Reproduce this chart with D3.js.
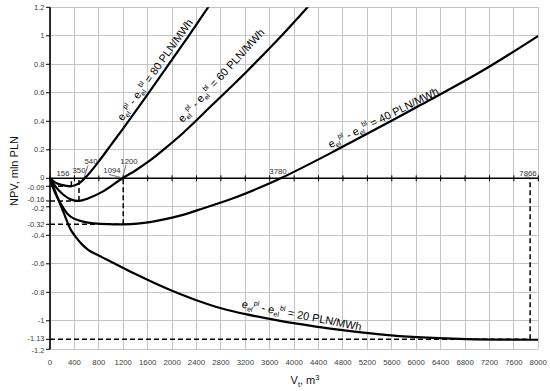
<!DOCTYPE html>
<html><head><meta charset="utf-8">
<script src="https://cdn.jsdelivr.net/npm/d3@7"></script>
<style>body{margin:0;background:#fff}svg{display:block}</style>
</head><body><svg id="c" width="550" height="391"></svg>
<script>
// ---------- data ----------
const xTickVals = d3.range(0, 8001, 400);
const yGridVals = [-1.2,-1,-0.8,-0.6,-0.4,-0.2,0,0.2,0.4,0.6,0.8,1,1.2];
const yTickVals = [1.2,1,0.8,0.6,0.4,0.2,0,-0.2,-0.4,-0.6,-0.8,-1,-1.2];
const yTickLabels = ["1.2","1","0.8","0.6","0.4","0.2","0","-0.2","-0.4","-0.6","-0.8","-1","-1.2"];

const seriesNames = ["80","60","40","20"];
const curve80 = [[0,0],[60,-0.021],[120,-0.036],[230,-0.05],[350,-0.056],[475,-0.036],[612,0.02],[820,0.13],[1000,0.235],[1200,0.35],[1585,0.58],[1913,0.78],[2200,0.955],[2448,1.11],[2607,1.21],[2800,1.33]];
const curve60 = [[0,0],[60,-0.04],[120,-0.073],[230,-0.119],[339,-0.148],[475,-0.159],[612,-0.143],[885,-0.088],[1186,0],[1400,0.055],[1639,0.125],[1900,0.215],[2185,0.32],[2623,0.5],[3224,0.75],[3770,0.99],[4197,1.19],[4400,1.29]];
const curve40 = [[0,0],[66,-0.084],[120,-0.135],[175,-0.178],[284,-0.248],[393,-0.283],[557,-0.306],[721,-0.316],[950,-0.322],[1200,-0.323],[1639,-0.307],[2131,-0.262],[2459,-0.218],[3000,-0.14],[3400,-0.072],[3780,0],[4590,0.175],[4918,0.25],[6011,0.5],[7104,0.76],[8000,1.0]];
const curve20 = [[0,0],[60,-0.065],[120,-0.131],[230,-0.248],[339,-0.36],[437,-0.42],[520,-0.462],[620,-0.5],[740,-0.53],[857,-0.555],[1000,-0.585],[1366,-0.665],[1913,-0.774],[2131,-0.812],[2459,-0.865],[2787,-0.91],[3224,-0.955],[3770,-1.0],[4044,-1.02],[4590,-1.055],[5410,-1.095],[6011,-1.115],[6831,-1.128],[7866,-1.133],[8000,-1.133]];
const curves = [curve80, curve60, curve40, curve20];

// characteristic points (x of guide, y of guide, y-label text)
const guideX = [350, 475, 1200, 7866];
const guideY = [-0.056, -0.159, -0.323, -1.13];
const guideLabels = ["-0.09", "-0.16", "-0.32", "-1.13"];

// x annotations on the zero line
const annotTexts = ["156","350","540","1094","1200","3780","7866"];
const annotTargets = [156, 350, 560, 1150, 1190, 3780, 7866];

// ---------- layout ----------
const W = 550, H = 391;
const svg = d3.select("#c");
const x = d3.scaleLinear().domain([0, 8000]).range([50, 538.3]);
const y = d3.scaleLinear().domain([-1.2, 1.2]).range([349.3, 7.3]);
const tickFont = "Liberation Sans, Arial, sans-serif";

svg.append("rect").attr("width", W).attr("height", H).attr("fill", "#fff");

// grid
const grid = svg.append("g").attr("stroke", "#c4c4c4").attr("stroke-width", 1).attr("shape-rendering", "crispEdges");
grid.selectAll("line.h").data(yGridVals).join("line")
  .attr("x1", x(0)).attr("x2", x(8000)).attr("y1", d => y(d)).attr("y2", d => y(d));
grid.selectAll("line.v").data(xTickVals).join("line")
  .attr("y1", y(1.2)).attr("y2", y(-1.2)).attr("x1", d => x(d)).attr("x2", d => x(d));

// x tick labels at bottom
svg.append("g").selectAll("text").data(xTickVals).join("text")
  .attr("x", d => x(d)).attr("y", 364.5)
  .attr("text-anchor", "middle")
  .attr("font-family", tickFont).attr("font-size", 7.8).attr("fill", "#404040")
  .text(d => d);

// y axis line
svg.append("line").attr("x1", x(0)).attr("x2", x(0)).attr("y1", y(1.2)).attr("y2", y(-1.2))
  .attr("stroke", "#000").attr("stroke-width", 1.6);

// y ticks + labels
const yAll = yTickVals.map((v, i) => ({v, t: yTickLabels[i]}))
  .concat(guideY.map((v, i) => ({v, t: guideLabels[i]})));
const nudge = {"-0.16": -1.8, "-0.2": 1.2, "-0.09": 0.6, "0": -0.8, "-1.13": -0.8, "-1.2": 1};
const yt = svg.append("g");
yt.selectAll("line").data(yAll).join("line")
  .attr("x1", x(0) - 4).attr("x2", x(0)).attr("y1", d => y(d.v)).attr("y2", d => y(d.v))
  .attr("stroke", "#000").attr("stroke-width", 1);
yt.selectAll("text").data(yAll).join("text")
  .attr("x", x(0) - 5.5).attr("y", d => y(d.v) + (nudge[d.t] || 0)).attr("dy", "0.35em")
  .attr("text-anchor", "end")
  .attr("font-family", tickFont).attr("font-size", 7.5).attr("fill", "#404040")
  .text(d => d.t);

// x axis (zero line) with ticks
svg.append("line").attr("x1", x(0)).attr("x2", x(8000)).attr("y1", y(0)).attr("y2", y(0))
  .attr("stroke", "#000").attr("stroke-width", 1.6);
svg.append("g").selectAll("line").data(xTickVals).join("line")
  .attr("x1", d => x(d)).attr("x2", d => x(d)).attr("y1", y(0) - 3).attr("y2", y(0) + 3)
  .attr("stroke", "#000").attr("stroke-width", 1);

// guides (dashed)
const gd = svg.append("g").attr("stroke", "#000").attr("stroke-width", 1.5).attr("stroke-dasharray", "5,3").attr("fill", "none");
guideX.forEach((gx, i) => {
  gd.append("line").attr("x1", x(0)).attr("x2", x(gx)).attr("y1", y(guideY[i])).attr("y2", y(guideY[i]));
  gd.append("line").attr("x1", x(gx)).attr("x2", x(gx)).attr("y1", y(guideY[i])).attr("y2", y(0));
});

// curves
svg.append("clipPath").attr("id", "clip").append("rect")
  .attr("x", x(0)).attr("y", y(1.2)).attr("width", x(8000) - x(0)).attr("height", y(-1.2) - y(1.2));
const line = d3.line().x(d => x(d[0])).y(d => y(d[1])).curve(d3.curveCatmullRom.alpha(0.5));
svg.append("g").attr("clip-path", "url(#clip)").selectAll("path").data(curves).join("path")
  .attr("d", line).attr("fill", "none").attr("stroke", "#000").attr("stroke-width", 2.2)
  .attr("stroke-linejoin", "round");

// annotation labels on zero line
const annotLayout = [
  {tx: 63, ty: 176}, {tx: 79, ty: 173}, {tx: 91, ty: 164, lead: true},
  {tx: 112, ty: 173, lead: true}, {tx: 129, ty: 163.5, lead: true},
  {tx: 278, ty: 174}, {tx: 528, ty: 175.5, lead: true}
];
const an = svg.append("g");
annotTexts.forEach((t, i) => {
  const L = annotLayout[i];
  an.append("text").attr("x", L.tx).attr("y", L.ty).attr("text-anchor", "middle")
    .attr("font-family", tickFont).attr("font-size", 7.8).attr("fill", "#303030").text(t);
  if (L.lead) {
    an.append("line").attr("x1", L.tx - 3).attr("y1", L.ty + 1.5)
      .attr("x2", x(annotTargets[i])).attr("y2", y(0) - 1)
      .attr("stroke", "#333").attr("stroke-width", 0.7);
  }
});

// curve labels
const labelLayout = [
  {cx: 158, cy: 72, a: -54.5},
  {cx: 224, cy: 78, a: -47.5},
  {cx: 385, cy: 121, a: -26.5},
  {cx: 301, cy: 319, a: 11}
];
seriesNames.forEach((n, i) => {
  const L = labelLayout[i];
  const t = svg.append("text")
    .attr("transform", `translate(${L.cx},${L.cy}) rotate(${L.a})`)
    .attr("text-anchor", "middle")
    .attr("font-family", tickFont).attr("font-size", 11).attr("fill", "#000");
  t.append("tspan").text("e");
  t.append("tspan").attr("font-size", 7).attr("dy", 2.5).text("el");
  t.append("tspan").attr("font-size", 7).attr("dy", -7).text("pl");
  t.append("tspan").attr("dy", 4.5).text(" - e");
  t.append("tspan").attr("font-size", 7).attr("dy", 2.5).text("el");
  t.append("tspan").attr("font-size", 7).attr("dy", -7).text("bl");
  t.append("tspan").attr("dy", 4.5).text(` = ${n} PLN/MWh`);
});

// axis titles
svg.append("text").attr("transform", "translate(18,171) rotate(-90)")
  .attr("text-anchor", "middle").attr("font-family", tickFont).attr("font-size", 11).attr("fill", "#111")
  .text("NPV, mln PLN");
const xt = svg.append("text").attr("x", 305).attr("y", 384).attr("text-anchor", "middle")
  .attr("font-family", tickFont).attr("font-size", 11).attr("fill", "#111");
xt.append("tspan").text("V");
xt.append("tspan").attr("font-size", 7.5).attr("dy", 2.5).text("t");
xt.append("tspan").attr("dy", -2.5).text(", m");
xt.append("tspan").attr("font-size", 7.5).attr("dy", -4).text("3");
</script></body></html>
